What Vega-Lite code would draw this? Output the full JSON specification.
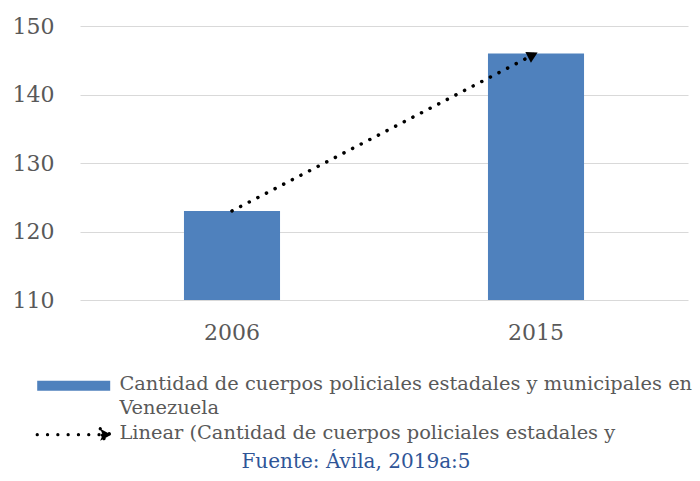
{
  "$schema": "https://vega.github.io/schema/vega-lite/v6.json",
  "autosize": {"type": "none"},
  "width": 608,
  "height": 274,
  "padding": {"left": 80, "top": 26, "right": 12, "bottom": 181},
  "background": "white",
  "config": {"view": {"stroke": null}},
  "title": {
    "text": "Fuente: Ávila, 2019a:5",
    "orient": "bottom",
    "anchor": "middle",
    "font": "DejaVu Serif",
    "fontSize": 20,
    "fontWeight": "normal",
    "color": "#2f5597",
    "offset": 4,
    "dx": -28
  },
  "data": {
    "values": [
      {"year": "2006", "value": 123},
      {"year": "2015", "value": 146}
    ]
  },
  "encoding": {
    "x": {
      "field": "year",
      "type": "nominal",
      "scale": {"paddingInner": 0.684, "paddingOuter": 0.342},
      "axis": {
        "title": null,
        "labelAngle": 0,
        "domain": false,
        "ticks": false,
        "grid": false,
        "labelFont": "DejaVu Serif",
        "labelFontSize": 22,
        "labelColor": "#595959",
        "labelPadding": 22
      }
    },
    "y": {
      "field": "value",
      "type": "quantitative",
      "scale": {"domain": [110, 150], "nice": false, "zero": false},
      "axis": {
        "title": null,
        "values": [110, 120, 130, 140, 150],
        "domain": false,
        "ticks": false,
        "gridColor": "#d9d9d9",
        "gridWidth": 1.2,
        "labelFont": "DejaVu Serif",
        "labelFontSize": 22,
        "labelColor": "#595959",
        "labelPadding": 26
      }
    }
  },
  "layer": [
    {
      "mark": {"type": "bar", "clip": true},
      "encoding": {
        "color": {
          "datum": "Cantidad de cuerpos policiales estadales y municipales en Venezuela",
          "type": "nominal",
          "scale": {
            "domain": [
              "Cantidad de cuerpos policiales estadales y municipales en Venezuela",
              "Linear (Cantidad de cuerpos policiales estadales y"
            ],
            "range": ["#4f81bd", "#000000"]
          },
          "legend": {
            "orient": "none",
            "legendX": -16,
            "legendY": 350,
            "title": null,
            "padding": 0,
            "symbolSize": 400,
            "labelOffset": 36,
            "labelLimit": 0,
            "labelFont": "DejaVu Serif",
            "labelFontSize": 19.4,
            "labelColor": "#595959",
            "labelBaseline": "top",
            "rowPadding": 4,
            "labelExpr": "datum.value == 'Cantidad de cuerpos policiales estadales y municipales en Venezuela' ? ['Cantidad de cuerpos policiales estadales y municipales en', 'Venezuela'] : datum.label",
            "encode": {
              "symbols": {
                "update": {
                  "shape": {"signal": "datum.index == 0 ? 'M-3.65,-0.5H3.65V0.5H-3.65Z' : 'M-3.65,0H2.7M2.65,-0.6L3.75,0L2.65,0.6L2.9,0Z'"},
                  "fill": {"signal": "datum.index == 0 ? '#4f81bd' : '#000000'"},
                  "stroke": {"signal": "datum.index == 0 ? '#4f81bd' : '#000000'"},
                  "strokeWidth": {"signal": "datum.index == 0 ? 0 : 3.2"},
                  "strokeDash": {"signal": "datum.index == 0 ? [1, 0] : [0.1, 10.2]"},
                  "strokeCap": {"value": "round"},
                  "opacity": {"value": 1}
                }
              },
              "labels": {
                "update": {
                  "dy": {"value": -11},
                  "lineHeight": {"value": 24}
                }
              }
            }
          }
        }
      }
    },
    {
      "mark": {"type": "line", "strokeWidth": 3.5, "strokeDash": [0.1, 9.6], "strokeCap": "round"},
      "encoding": {
        "color": {"datum": "Linear (Cantidad de cuerpos policiales estadales y", "type": "nominal"}
      }
    },
    {
      "transform": [{"filter": "datum.year == '2015'"}],
      "mark": {"type": "point", "shape": "triangle", "angle": 63, "filled": true, "size": 150, "opacity": 1, "xOffset": -4.7, "yOffset": 2.4, "color": "#000000"},
      "encoding": {}
    }
  ]
}
